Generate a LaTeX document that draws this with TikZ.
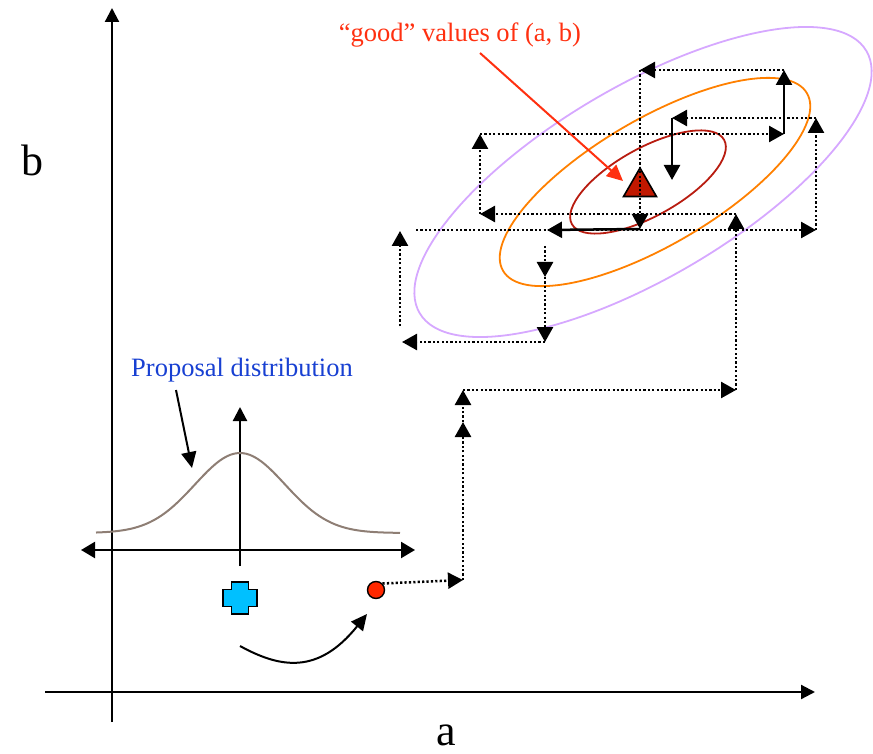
\documentclass[tikz,border=0pt]{standalone}
\usepackage{fontspec}
\setmainfont{Liberation Serif}
\usetikzlibrary{arrows.meta, shapes.geometric, positioning}
\definecolor{lilac}{RGB}{214, 168, 255}
\definecolor{contourorange}{RGB}{255, 128, 0}
\definecolor{contourred}{RGB}{184, 28, 16}
\definecolor{peakred}{RGB}{192, 24, 0}
\definecolor{goodred}{RGB}{255, 48, 16}
\definecolor{proposalblue}{RGB}{24, 64, 210}
\definecolor{bellgray}{RGB}{142, 126, 116}
\definecolor{startcyan}{RGB}{0, 192, 255}
\definecolor{pointred}{RGB}{255, 40, 0}
\tikzset{
  axis/.style={line width=2.2pt, -{Triangle[length=14pt, width=14pt]}},
  walk/.style={line width=2.5pt, dash pattern=on 2.2pt off 2.2pt,
              -{Triangle[length=15pt, width=16pt]}},
  jump/.style={line width=2.5pt, -{Triangle[length=15pt, width=16pt]}},
  pointer/.style={line width=2pt, -{Triangle[length=16pt, width=15pt]}},
  contour/.style={line width=1.8pt},
  bigtext/.style={font=\fontsize{44}{48}\selectfont, inner sep=0pt},
  note/.style={font=\fontsize{26.5}{30}\selectfont, inner sep=0pt},
}

\begin{document}
\begin{tikzpicture}[x=1pt, y=-1pt]
  \useasboundingbox (0,0) rectangle (873,754);
  \clip (0,0) rectangle (873,754);

  % a-b plane
  \coordinate (bfoot) at (112,722);
  \coordinate (btop) at (112,8);
  \coordinate (afoot) at (45,692);
  \coordinate (aend) at (815,692);
  \draw[axis] (bfoot) -- (btop);
  \draw[axis] (afoot) -- (aend);
  \node[bigtext, anchor=base] (blabel) at (32,176) {b};
  \node[bigtext, anchor=base] (alabel) at (446,745) {a};

  % target contours
  \draw[contour, lilac, rotate around={30.4:(643,182)}] (643,182) ellipse [x radius=259pt, y radius=96pt];
  \draw[contour, contourorange, rotate around={30.3:(655,182)}] (655,182) ellipse [x radius=176pt, y radius=63pt];
  \draw[contour, contourred, rotate around={29:(648,182)}] (648,182) ellipse [x radius=87pt, y radius=34pt];
  \node[regular polygon, regular polygon sides=3, draw, line width=1.6pt, fill=peakred,
        minimum size=38pt, inner sep=0pt] (best) at (640,187) {};

  % proposal distribution
  \coordinate (pleft) at (81,550);
  \coordinate (pright) at (415,550);
  \coordinate (pfoot) at (240,566);
  \coordinate (ptop) at (240,407);
  \draw[line width=2.2pt, {Triangle[length=14pt, width=16pt]}-{Triangle[length=14pt, width=16pt]}] (pleft) -- (pright);
  \draw[axis] (pfoot) -- (ptop);
  \draw[bellgray, line width=2pt] plot[domain=96:400, samples=80] (\x, {533-80*exp(0-((\x-240)/63.7)^2)});
  \node[note, text=proposalblue] (proplabel) at (242,370) {Proposal distribution};
  \coordinate (propfoot) at (176,390);
  \coordinate (proptip) at (192,468);
  \draw[pointer] (propfoot) -- (proptip);

  % current and proposed point
  \coordinate (start) at (240,598);
  \draw[line width=1.6pt, fill=startcyan, shift={(start)}]
    (-8.5,-16) -- (8.5,-16) -- (8.5,-8.5) -- (17,-8.5) -- (17,8.5) -- (8.5,8.5) -- (8.5,16)
    -- (-8.5,16) -- (-8.5,8.5) -- (-17,8.5) -- (-17,-8.5) -- (-8.5,-8.5) -- cycle;
  \node[circle, draw, line width=1.4pt, fill=pointred, minimum size=17pt, inner sep=0pt] (cand) at (376,590) {};
  \coordinate (swingA) at (240,646);
  \coordinate (swingB) at (367,614);
  \draw[pointer] (swingA) .. controls (280,668) and (318,675) .. (swingB);

  % random walk
  \coordinate (w1) at (463,580);
  \coordinate (w2) at (463,422);
  \coordinate (w3) at (463,390);
  \coordinate (w4) at (736,390);
  \coordinate (w5) at (736,214);
  \coordinate (w6) at (480,214);
  \coordinate (w7) at (480,134);
  \coordinate (w8) at (784,134);
  \coordinate (w9) at (784,70);
  \coordinate (w10) at (640,70);
  \coordinate (w11) at (640,229);
  \coordinate (w12) at (547,230);
  \coordinate (w13) at (545,246);
  \coordinate (w14) at (545,277);
  \coordinate (w15) at (545,342);
  \coordinate (w16) at (402,342);
  \coordinate (w17) at (400,326);
  \coordinate (w18) at (400,231);
  \coordinate (w19) at (416,230);
  \coordinate (w20) at (816,230);
  \coordinate (w21) at (816,118);
  \coordinate (w22) at (672,118);
  \coordinate (w23) at (672,180);

  \draw[walk] (cand.north east) -- (w1);
  \draw[walk] (w1) -- (w2);
  \draw[walk] (w2) -- (w3);
  \draw[walk] (w3) -- (w4);
  \draw[walk] (w4) -- (w5);
  \draw[walk] (w5) -- (w6);
  \draw[walk] (w6) -- (w7);
  \draw[walk] (w7) -- (w8);
  \draw[jump] (w8) -- (w9);
  \draw[walk] (w9) -- (w10);
  \draw[walk] (w10) -- (w11);
  \draw[jump] (w11) -- (w12);
  \draw[walk] (w13) -- (w14);
  \draw[walk] (w14) -- (w15);
  \draw[walk] (w15) -- (w16);
  \draw[walk] (w17) -- (w18);
  \draw[walk] (w19) -- (w20);
  \draw[walk] (w20) -- (w21);
  \draw[walk] (w21) -- (w22);
  \draw[jump] (w22) -- (w23);

  % good values
  \node[note, text=goodred] (goodlabel) at (460,35) {“good” values of (a, b)};
  \coordinate (goodfoot) at (480,53);
  \coordinate (goodtip) at (623,181);
  \draw[pointer, goodred] (goodfoot) -- (goodtip);
\end{tikzpicture}
\end{document}
